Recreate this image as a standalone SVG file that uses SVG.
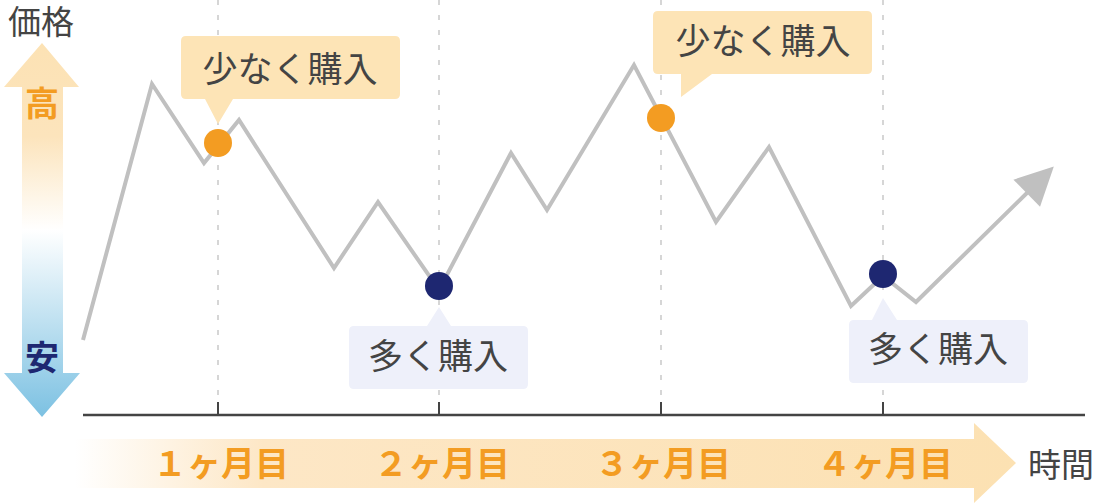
<svg xmlns="http://www.w3.org/2000/svg" width="1100" height="504" viewBox="0 0 1100 504">
<style>
  text { font-family: "Noto Sans CJK JP", "Noto Sans", sans-serif; }
  .lbl { font-size: 35px; fill: #444444; text-anchor: middle; }
  .ax { font-size: 33px; fill: #444444; text-anchor: middle; }
  .mon { font-size: 34px; font-weight: bold; fill: #F39C22; text-anchor: middle; }
  .grid { stroke: #D6D6D6; stroke-width: 2; stroke-dasharray: 5 10; fill: none; }
  .tick { stroke: #444444; stroke-width: 2; }
  .co-o { fill: #FDE4B6; }
  .co-b { fill: #EEF0FA; }
  .price { fill: none; stroke: #C0C0C0; stroke-width: 4; stroke-linejoin: miter; }
</style>
<defs>
  <linearGradient id="gV" gradientUnits="userSpaceOnUse" x1="0" y1="43" x2="0" y2="417">
    <stop offset="0" stop-color="#FCE2B4"/>
    <stop offset="0.25" stop-color="#FCE4BC"/>
    <stop offset="0.5" stop-color="#FFFFFF"/>
    <stop offset="1" stop-color="#7CC1E2"/>
  </linearGradient>
  <linearGradient id="gH" gradientUnits="userSpaceOnUse" x1="75" y1="0" x2="1016" y2="0">
    <stop offset="0" stop-color="#FFFFFF"/>
    <stop offset="0.2" stop-color="#FDE7C6"/>
    <stop offset="1" stop-color="#FCE1B2"/>
  </linearGradient>
  <marker id="ah" markerUnits="userSpaceOnUse" markerWidth="44" markerHeight="44" refX="0" refY="0" viewBox="-10 -22 44 44" orient="auto">
    <path d="M-6,-19 L32,0 L-6,19 Z" fill="#C0C0C0"/>
  </marker>
</defs>

<g id="price-axis-label"><text class="ax" x="41" y="34">価格</text></g>

<g id="price-arrow">
  <path d="M42,43 L79,87 L63,87 L63,373 L80,373 L42,417 L4,373 L22,373 L22,87 L4,87 Z" fill="url(#gV)"/>
  <text x="42" y="116" font-size="34" font-weight="bold" fill="#F39C22" text-anchor="middle">高</text>
  <text x="42" y="370" font-size="34" font-weight="bold" fill="#1E2771" text-anchor="middle">安</text>
</g>

<g id="grid">
  <line class="grid" x1="218" y1="0" x2="218" y2="400"/>
  <line class="grid" x1="439" y1="0" x2="439" y2="400"/>
  <line class="grid" x1="661" y1="0" x2="661" y2="400"/>
  <line class="grid" x1="883" y1="0" x2="883" y2="400"/>
</g>

<g id="time-axis">
  <line x1="83" y1="415" x2="1085" y2="415" stroke="#444444" stroke-width="2.5"/>
  <line class="tick" x1="218" y1="402" x2="218" y2="415"/>
  <line class="tick" x1="439" y1="402" x2="439" y2="415"/>
  <line class="tick" x1="661" y1="402" x2="661" y2="415"/>
  <line class="tick" x1="883" y1="402" x2="883" y2="415"/>
</g>

<g id="time-arrow">
  <path d="M75,439 L974,439 L974,423 L1016,463 L974,503 L974,488 L75,488 Z" fill="url(#gH)"/>
  <text class="mon" x="221" y="476">１ヶ月目</text>
  <text class="mon" x="442" y="476">２ヶ月目</text>
  <text class="mon" x="663" y="476">３ヶ月目</text>
  <text class="mon" x="885" y="476">４ヶ月目</text>
</g>
<g id="time-label"><text class="ax" x="1061" y="477">時間</text></g>

<g id="connectors">
  <polyline class="price" marker-end="url(#ah)" points="83,340 152,84 204,163 239,120 334,268 378,202 439,290 511,153 547,210 634,65 716,222 769,147 851,306 883,276 916,302 1031,189"/>
</g>

<g id="callout-1">
  <path class="co-o" d="M186,36 H395 Q400,36 400,41 V94 Q400,99 395,99 H233 L218,124 L205,99 H186 Q181,99 181,94 V41 Q181,36 186,36 Z"/>
  <text class="lbl" x="290" y="82">少なく購入</text>
</g>
<g id="callout-2">
  <path class="co-o" d="M658,11 H867 Q872,11 872,16 V69 Q872,74 867,74 H712 L681,97 L681,74 H658 Q653,74 653,69 V16 Q653,11 658,11 Z"/>
  <text class="lbl" x="763" y="54">少なく購入</text>
</g>
<g id="callout-3">
  <path class="co-b" d="M354,326 H427 L439,307 L451,326 H523 Q528,326 528,331 V384 Q528,389 523,389 H354 Q349,389 349,384 V331 Q349,326 354,326 Z"/>
  <text class="lbl" x="438" y="369">多く購入</text>
</g>
<g id="callout-4">
  <path class="co-b" d="M854,320 H872 L883,298 L897,320 H1023 Q1028,320 1028,325 V378 Q1028,383 1023,383 H854 Q849,383 849,378 V325 Q849,320 854,320 Z"/>
  <text class="lbl" x="938" y="362">多く購入</text>
</g>

<g id="dot-1"><circle cx="218" cy="143" r="14" fill="#F39C22"/></g>
<g id="dot-2"><circle cx="439" cy="286" r="14" fill="#1E2771"/></g>
<g id="dot-3"><circle cx="661" cy="118" r="14" fill="#F39C22"/></g>
<g id="dot-4"><circle cx="883" cy="274" r="14" fill="#1E2771"/></g>
</svg>
